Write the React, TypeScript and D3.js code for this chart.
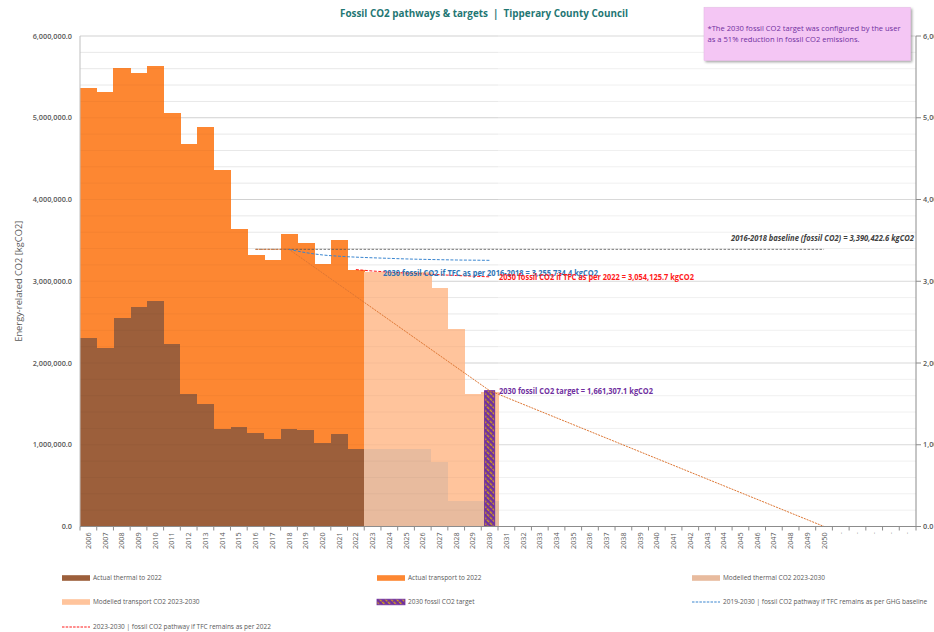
import React from 'react';
import * as d3 from 'd3';

// ---------- DATA ----------
const CATEGORIES = [
  '2006', '2007', '2008', '2009', '2010', '2011', '2012', '2013', '2014', '2015',
  '2016', '2017', '2018', '2019', '2020', '2021', '2022', '2023', '2024', '2025',
  '2026', '2027', '2028', '2029', '2030', '2031', '2032', '2033', '2034', '2035',
  '2036', '2037', '2038', '2039', '2040', '2041', '2042', '2043', '2044', '2045',
  '2046', '2047', '2048', '2049', '2050', 'b1', 'b2', 'b3', 'b4', 'b5',
];
const CATEGORY_LABELS: Record<string, string> = { b1: '-', b2: '-', b3: '-', b4: '-', b5: '-' };

const ACTUAL_YEARS = ['2006', '2007', '2008', '2009', '2010', '2011', '2012', '2013', '2014', '2015', '2016', '2017', '2018', '2019', '2020', '2021', '2022'];
const ACTUAL_THERMAL = [2306000, 2183000, 2555000, 2680000, 2755000, 2235000, 1616000, 1494000, 1188000, 1212000, 1139000, 1065000, 1194000, 1175000, 1016000, 1133000, 943000];
const ACTUAL_TRANSPORT = [3053000, 3127000, 3057000, 2863000, 2877000, 2818000, 3057000, 3388000, 3167000, 2425000, 2179000, 2201000, 2385000, 2299000, 2201000, 2369000, 2200000];

const MODELLED_YEARS = ['2023', '2024', '2025', '2026', '2027', '2028', '2029', '2030'];
const MODELLED_THERMAL = [943000, 943000, 943000, 943000, 787000, 306000, 306000, 306000];
const MODELLED_TRANSPORT = [2171000, 2171000, 2171000, 2171000, 2131000, 2115000, 1319000, 1334000];

const TARGET_YEAR = '2030';
const TARGET_VALUE = 1661307.1;

const BASELINE_YEARS = ['2016', '2050'];
const BASELINE_VALUE = 3390422.6;

const GHG_PATH_YEARS = ['2018', '2019', '2020', '2021', '2022', '2023', '2024', '2025', '2026', '2027', '2028', '2029', '2030'];
const GHG_PATH_VALUES = [3390422.6, 3350000, 3322000, 3306000, 3295000, 3287000, 3280000, 3273000, 3268000, 3264000, 3260000, 3258000, 3255734.4];

const TFC2022_PATH_YEARS = ['2022', '2023', '2024', '2025', '2026', '2027', '2028', '2029', '2030'];
const TFC2022_PATH_VALUES = [3143000, 3125000, 3112000, 3100000, 3090000, 3080000, 3070000, 3062000, 3054125.7];

const TARGET_PATH_YEARS = ['2016', '2017', '2018', '2030', '2050'];
const TARGET_PATH_VALUES = [3390422.6, 3390422.6, 3390422.6, 1661307.1, 0];

const Y_TICKS = [0, 1000000, 2000000, 3000000, 4000000, 5000000, 6000000];

const TITLE = 'Fossil CO2 pathways & targets  |  Tipperary County Council';
const NOTE_LINES = ['*The 2030 fossil CO2 target was configured by the user', 'as a 51% reduction in fossil CO2 emissions.'];

// ---------- STYLE ----------
const W = 934;
const H = 632;
const PLOT = { left: 80, right: 916, top: 36, bottom: 526.5 };
const FONT = "'Open Sans', 'Liberation Sans', sans-serif";
const C = {
  thermal: '#9c5f3b',
  transport: '#fd8732',
  mThermal: '#e8bb9e',
  mTransport: '#ffc49c',
  purple: '#7030a0',
  gold: '#d4a017',
  blue: '#3a86d0',
  red: '#ff1a1a',
  pathOrange: '#dd7633',
  baseline: '#555555',
  axisText: '#595959',
};

const fmt = (v: number) => d3.format(',.1f')(v);

export default function App() {
  const x = d3.scaleBand<string>().domain(CATEGORIES).range([PLOT.left, PLOT.right]).padding(0);
  const y = d3.scaleLinear().domain([0, 6000000]).range([PLOT.bottom, PLOT.top]);
  const bw = x.bandwidth();
  const cx = (k: string) => (x(k) as number) + bw / 2;

  const stack = d3.stack<any>().keys(['thermal', 'transport']);
  const actualRows = ACTUAL_YEARS.map((k, i) => ({ key: k, thermal: ACTUAL_THERMAL[i], transport: ACTUAL_TRANSPORT[i] }));
  const modelledRows = MODELLED_YEARS.map((k, i) => ({ key: k, thermal: MODELLED_THERMAL[i], transport: MODELLED_TRANSPORT[i] }));
  const actualStack = stack(actualRows);
  const modelledStack = stack(modelledRows);

  const lineGen = d3
    .line<[string, number]>()
    .x((d) => cx(d[0]))
    .y((d) => y(d[1]));

  const zip = (ks: string[], vs: number[]) => ks.map((k, i) => [k, vs[i]] as [string, number]);

  const minorTicks = d3.range(0, 6000001, 200000).filter((v) => v % 1000000 !== 0);

  const targetW = bw * 0.6;

  const legend = [
    { type: 'rect', fill: C.thermal, label: 'Actual thermal to 2022', col: 0, row: 0 },
    { type: 'rect', fill: C.transport, label: 'Actual transport to 2022', col: 1, row: 0 },
    { type: 'rect', fill: C.mThermal, label: 'Modelled thermal CO2 2023-2030', col: 2, row: 0 },
    { type: 'rect', fill: C.mTransport, label: 'Modelled transport CO2 2023-2030', col: 0, row: 1 },
    { type: 'hatch', fill: 'url(#hatch)', label: '2030 fossil CO2 target', col: 1, row: 1 },
    { type: 'line', fill: C.blue, label: '2019-2030 | fossil CO2 pathway if TFC remains as per GHG baseline', col: 2, row: 1 },
    { type: 'line', fill: C.red, label: '2023-2030 | fossil CO2 pathway if TFC remains as per 2022', col: 0, row: 2 },
  ];
  const legendCols = [62, 377, 692];
  const legendRows = [578, 602, 627];

  const renderStack = (series: any[], prefix: string, cThermal: string, cTransport: string) =>
    series.map((s) => (
      <g key={prefix + s.key} fill={s.key === 'thermal' ? cThermal : cTransport} shapeRendering="crispEdges">
        {s.map((d: any) => (
          <rect
            key={d.data.key}
            x={x(d.data.key)}
            y={y(d[1])}
            width={bw + 0.6}
            height={y(d[0]) - y(d[1])}
          />
        ))}
      </g>
    ));

  return (
    <svg
      width={W}
      height={H}
      viewBox={`0 0 ${W} ${H}`}
      style={{ position: 'absolute', left: 0, top: 0, background: '#ffffff' }}
      fontFamily={FONT}
    >
      <defs>
        <pattern id="hatch" patternUnits="userSpaceOnUse" width="4" height="4" patternTransform="rotate(-45)">
          <rect width="4" height="4" fill={C.purple} />
          <rect x="0" y="0" width="1.4" height="3.1" fill={C.gold} />
        </pattern>
        <filter id="shadow" x="-10%" y="-20%" width="130%" height="160%">
          <feDropShadow dx="1.5" dy="1.5" stdDeviation="1.2" floodColor="#000" floodOpacity="0.35" />
        </filter>
      </defs>

      {/* Title */}
      <text
        x={484}
        y={17}
        textAnchor="middle"
        fontSize={10.5}
        fontWeight="bold"
        fill="#1f7774"
        textLength={288}
        lengthAdjust="spacingAndGlyphs"
        style={{ whiteSpace: 'pre' }}
      >
        {TITLE}
      </text>

      {/* Gridlines */}
      {minorTicks.map((v) => (
        <line key={'mn' + v} x1={PLOT.left} x2={PLOT.right} y1={y(v)} y2={y(v)} stroke="#f0f0f0" strokeWidth={1} />
      ))}
      {Y_TICKS.map((v) => (
        <line key={'mj' + v} x1={PLOT.left} x2={PLOT.right} y1={y(v)} y2={y(v)} stroke="#d9d9d9" strokeWidth={1} />
      ))}

      {/* Actual and modelled stacked bars */}
      {renderStack(actualStack, 'a', C.thermal, C.transport)}
      {renderStack(modelledStack, 'm', C.mThermal, C.mTransport)}

      {/* Faint gridline overlay (gridlines visible through bars) */}
      {d3.range(0, 6000001, 200000).map((v) => (
        <line key={'ov' + v} x1={PLOT.left} x2={x('2031')} y1={y(v)} y2={y(v)} stroke="#000" strokeOpacity={0.035} strokeWidth={1} />
      ))}

      {/* Target bar */}
      <rect
        x={cx(TARGET_YEAR) - targetW / 2}
        y={y(TARGET_VALUE)}
        width={targetW}
        height={y(0) - y(TARGET_VALUE)}
        fill="url(#hatch)"
        stroke={C.purple}
        strokeWidth={1}
      />

      {/* Baseline line */}
      <path
        d={lineGen(zip(BASELINE_YEARS, BASELINE_YEARS.map(() => BASELINE_VALUE))) || ''}
        fill="none"
        stroke={C.baseline}
        strokeWidth={0.8}
        strokeDasharray="2.5,1.5"
      />
      {/* Target pathway */}
      <path
        d={lineGen(zip(TARGET_PATH_YEARS, TARGET_PATH_VALUES)) || ''}
        fill="none"
        stroke={C.pathOrange}
        strokeWidth={1}
        strokeDasharray="2,1"
      />
      {/* GHG baseline pathway */}
      <path
        d={d3.line<[string, number]>().x((d) => cx(d[0])).y((d) => y(d[1])).curve(d3.curveMonotoneX)(zip(GHG_PATH_YEARS, GHG_PATH_VALUES)) || ''}
        fill="none"
        stroke={C.blue}
        strokeWidth={1}
        strokeDasharray="3,1.5"
      />
      {/* TFC 2022 pathway */}
      <path
        d={lineGen(zip(TFC2022_PATH_YEARS, TFC2022_PATH_VALUES)) || ''}
        fill="none"
        stroke={C.red}
        strokeWidth={1}
        strokeDasharray="3,1.5"
      />

      {/* Axes */}
      <line x1={PLOT.left} x2={PLOT.left} y1={PLOT.top} y2={PLOT.bottom} stroke="#bfbfbf" strokeWidth={1} />
      <line x1={PLOT.right} x2={PLOT.right} y1={PLOT.top} y2={PLOT.bottom} stroke="#8c8c8c" strokeWidth={1} />
      <line x1={PLOT.left} x2={PLOT.right} y1={PLOT.bottom} y2={PLOT.bottom} stroke="#8c8c8c" strokeWidth={1} />
      {CATEGORIES.map((k) => (
        <line key={'xt' + k} x1={x(k)} x2={x(k)} y1={PLOT.bottom} y2={PLOT.bottom + 4} stroke="#8c8c8c" strokeWidth={1} />
      ))}
      <line x1={PLOT.right} x2={PLOT.right} y1={PLOT.bottom} y2={PLOT.bottom + 4} stroke="#8c8c8c" strokeWidth={1} />

      {/* Left y labels */}
      {Y_TICKS.map((v) => (
        <text key={'yl' + v} x={72} y={y(v)} dy="0.35em" textAnchor="end" fontSize={7.3} fontWeight={600} fill={C.axisText}>
          {fmt(v)}
        </text>
      ))}
      {/* Right y ticks and labels (clipped by the image edge as in the original) */}
      {Y_TICKS.map((v) => (
        <g key={'yr' + v}>
          <line x1={PLOT.right} x2={PLOT.right + 5} y1={y(v)} y2={y(v)} stroke="#8c8c8c" strokeWidth={1} />
          <text x={923} y={y(v)} dy="0.35em" fontSize={7.3} fontWeight={600} fill={C.axisText}>
            {fmt(v)}
          </text>
        </g>
      ))}

      {/* Y title */}
      <text
        transform={`translate(22, ${(PLOT.top + PLOT.bottom) / 2}) rotate(-90)`}
        textAnchor="middle"
        fontSize={9.3}
        fill={C.axisText}
      >
        Energy-related CO2 [kgCO2]
      </text>

      {/* X labels */}
      {CATEGORIES.map((k) => (
        <text
          key={'xl' + k}
          transform={`translate(${cx(k)}, ${PLOT.bottom + 6}) rotate(-90)`}
          textAnchor="end"
          dy="0.35em"
          fontSize={CATEGORY_LABELS[k] ? 5 : 7.2}
          fill={C.axisText}
        >
          {CATEGORY_LABELS[k] ?? k}
        </text>
      ))}

      {/* Annotations */}
      <text
        x={914}
        y={238}
        dy="0.35em"
        textAnchor="end"
        fontSize={8}
        fontWeight="bold"
        fontStyle="italic"
        fill="#404040"
        textLength={183}
        lengthAdjust="spacingAndGlyphs"
      >
        {`2016-2018 baseline (fossil CO2) = ${fmt(BASELINE_VALUE)} kgCO2`}
      </text>
      <text
        x={383}
        y={273.5}
        dy="0.35em"
        fontSize={8}
        fontWeight="bold"
        fill="#2e75b6"
        textLength={215}
        lengthAdjust="spacingAndGlyphs"
      >
        {`2030 fossil CO2 if TFC as per 2016-2018 = ${fmt(GHG_PATH_VALUES[GHG_PATH_VALUES.length - 1])} kgCO2`}
      </text>
      <text
        x={499}
        y={277.5}
        dy="0.35em"
        fontSize={8}
        fontWeight="bold"
        fill={C.red}
        textLength={195}
        lengthAdjust="spacingAndGlyphs"
      >
        {`2030 fossil CO2 if TFC as per 2022 = ${fmt(TFC2022_PATH_VALUES[TFC2022_PATH_VALUES.length - 1])} kgCO2`}
      </text>
      <text
        x={499}
        y={391.5}
        dy="0.35em"
        fontSize={8}
        fontWeight="bold"
        fill={C.purple}
        textLength={154}
        lengthAdjust="spacingAndGlyphs"
      >
        {`2030 fossil CO2 target = ${fmt(TARGET_VALUE)} kgCO2`}
      </text>

      {/* Note box */}
      <rect x={704} y={7.5} width={206.5} height={53} fill="#f4c6f4" stroke="#e3b3e3" strokeWidth={0.5} filter="url(#shadow)" />
      {NOTE_LINES.map((t, i) => (
        <text
          key={'note' + i}
          x={707.5}
          y={28.5 + i * 11}
          dy="0.35em"
          fontSize={7.8}
          fill={C.purple}
          textLength={i === 0 ? 193 : 152}
          lengthAdjust="spacingAndGlyphs"
        >
          {t}
        </text>
      ))}

      {/* Legend */}
      {legend.map((it, i) => {
        const lx = legendCols[it.col];
        const ly = legendRows[it.row];
        return (
          <g key={'lg' + i}>
            {it.type === 'line' ? (
              <line x1={lx} x2={lx + 28} y1={ly} y2={ly} stroke={it.fill} strokeWidth={1.2} strokeDasharray="2.5,1.2" />
            ) : (
              <rect
                x={lx}
                y={ly - 2.8}
                width={28}
                height={5.6}
                fill={it.fill}
                stroke={it.type === 'hatch' ? C.purple : 'none'}
                strokeWidth={0.8}
              />
            )}
            <text x={lx + 31} y={ly} dy="0.35em" fontSize={6.5} fill={C.axisText}>
              {it.label}
            </text>
          </g>
        );
      })}
    </svg>
  );
}
